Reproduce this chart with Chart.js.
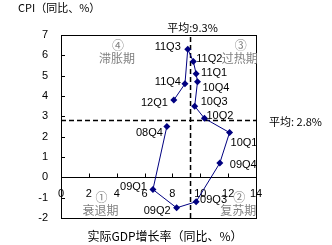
<!DOCTYPE html>
<html>
<head>
<meta charset="utf-8">
<script src="https://cdn.jsdelivr.net/npm/chart.js@4.4.1/dist/chart.umd.min.js"></script>
<style>
  html, body { margin:0; padding:0; background:#fff; }
  #wrap { width:332px; height:245px; }
</style>
</head>
<body>
<div id="wrap"><canvas id="c" width="332" height="245"></canvas></div>
<script>
// 数据：实际GDP增长率 与 CPI（同比、%）
const quarters = ['08Q4','09Q1','09Q2','09Q3','09Q4','10Q1','10Q2','10Q3','10Q4','11Q1','11Q2','11Q3','11Q4','12Q1'];
const gdp = [7.6, 6.6, 8.3, 9.7, 11.4, 12.1, 10.3, 9.6, 9.8, 9.7, 9.5, 9.1, 8.9, 8.1];
const cpi = [2.5, -0.6, -1.5, -1.2, 0.7, 2.2, 2.9, 3.5, 4.7, 5.1, 5.7, 6.3, 4.6, 3.8];
const gdpAvg = 9.3;
const cpiAvg = 2.8;
const xRange = [0, 14, 2];
const yRange = [-2, 7, 1];

const LATIN = '"Liberation Sans", Arial, sans-serif';
const CJK = '"Noto Sans CJK SC", "Liberation Sans", sans-serif';

// 标签位置（相对于点的像素偏移）
const labelPos = {
  '08Q4':[-4, 6,'right'], '09Q1':[-6,-3,'right'], '09Q2':[-6, 3,'right'],
  '09Q3':[ 4,-2,'left'],  '09Q4':[10, 2,'left'],  '10Q1':[ 1,10,'left'],
  '10Q2':[ 2,-2,'left'],  '10Q3':[ 6,-4,'left'],  '10Q4':[ 5, 6,'left'],
  '11Q1':[ 5,-1,'left'],  '11Q2':[ 3,-2,'left'],  '11Q3':[-7,-2,'right'],
  '11Q4':[-4,-2,'right'], '12Q1':[-6, 3,'right']
};

const quadrants = [
  { num:'④', name:'滞胀期', x:4.1,  y:6.5 },
  { num:'③', name:'过热期', x:12.9, y:6.5 },
  { num:'①', name:'衰退期', x:2.9,  y:-1.0 },
  { num:'②', name:'复苏期', x:12.8, y:-1.0 }
];

const deco = {
  id:'deco',
  beforeDatasetsDraw(chart) {
    const {ctx, chartArea:a, scales:{x, y}} = chart;
    ctx.save();
    ctx.strokeStyle = '#000';
    ctx.lineWidth = 1;
    ctx.strokeRect(Math.round(a.left)+0.5, Math.round(a.top)+0.5, Math.round(a.right-a.left), Math.round(a.bottom-a.top));
    // 内侧刻度
    const y0 = Math.round(y.getPixelForValue(0)) + 0.5;
    ctx.beginPath();
    for (let v = xRange[0]; v <= xRange[1]; v += xRange[2]) {
      const px = Math.round(x.getPixelForValue(v)) + 0.5;
      ctx.moveTo(px, y0); ctx.lineTo(px, y0 - 4);
    }
    for (let v = yRange[0]; v <= yRange[1]; v += yRange[2]) {
      const py = Math.round(y.getPixelForValue(v)) + 0.5;
      ctx.moveTo(a.left, py); ctx.lineTo(a.left + 4, py);
    }
    ctx.stroke();

    // 象限文字
    ctx.fillStyle = '#808080';
    ctx.font = '12px ' + CJK;
    ctx.textAlign = 'center';
    ctx.textBaseline = 'middle';
    quadrants.forEach(q => {
      const px = x.getPixelForValue(q.x), py = y.getPixelForValue(q.y);
      ctx.fillText(q.num, px, py);
      ctx.fillText(q.name, px - 1, py + 13);
    });
    ctx.restore();
  },
  afterDraw(chart) {
    const {ctx, chartArea:a, scales:{x, y}} = chart;
    ctx.save();
    ctx.fillStyle = '#000';
    ctx.textBaseline = 'middle';

    // 点标签
    ctx.font = '11px ' + LATIN;
    const meta = chart.getDatasetMeta(0);
    meta.data.forEach((pt, i) => {
      const p = labelPos[quarters[i]];
      ctx.textAlign = p[2];
      ctx.fillText(quarters[i], pt.x + p[0], pt.y + p[1]);
    });

    // 平均线标签
    ctx.font = '11px ' + CJK;
    ctx.textAlign = 'center';
    ctx.fillText('平均:' + gdpAvg + '%', x.getPixelForValue(gdpAvg) + 2, a.top - 7);
    ctx.textAlign = 'left';
    ctx.fillText('平均: ' + cpiAvg + '%', a.right + 13, y.getPixelForValue(cpiAvg) + 1);

    // 轴标题
    ctx.fillText('CPI（同比、%）', 18, 8);
    ctx.font = '12px ' + CJK;
    ctx.textAlign = 'center';
    ctx.fillText('实际GDP增长率（同比、%）', 165, 236);
    ctx.restore();
  }
};

new Chart(document.getElementById('c'), {
  type: 'scatter',
  data: {
    datasets: [
      {
        data: gdp.map((g, i) => ({ x: g, y: cpi[i] })),
        showLine: true,
        borderColor: '#000080',
        backgroundColor: '#000080',
        borderWidth: 1,
        pointStyle: 'rectRot',
        pointRadius: 3.5,
        pointBorderWidth: 0,
        order: 0
      },
      {
        data: [{ x: xRange[0], y: cpiAvg }, { x: xRange[1], y: cpiAvg }],
        showLine: true,
        borderColor: '#000',
        borderWidth: 1.5,
        borderDash: [5, 3],
        pointRadius: 0,
        order: 1
      },
      {
        data: [{ x: gdpAvg, y: yRange[0] }, { x: gdpAvg, y: yRange[1] }],
        showLine: true,
        borderColor: '#000',
        borderWidth: 1.5,
        borderDash: [5, 3],
        pointRadius: 0,
        order: 1
      }
    ]
  },
  options: {
    responsive: false,
    animation: false,
    layout: { padding: { left: 0, top: 35, right: 76, bottom: 27 } },
    plugins: { legend: { display: false }, tooltip: { enabled: false } },
    scales: {
      x: {
        type: 'linear',
        position: { y: 0 },
        min: xRange[0], max: xRange[1],
        grid: { display: false, drawTicks: false },
        border: { display: true, color: '#000', width: 1 },
        ticks: { stepSize: xRange[2], autoSkip: false, maxRotation: 0, padding: 10, color: '#000', font: { size: 11, family: LATIN } }
      },
      y: {
        type: 'linear',
        position: 'left',
        min: yRange[0], max: yRange[1],
        afterFit: s => { s.width = 61; },
        grid: { display: false, drawTicks: false },
        border: { display: false },
        ticks: { stepSize: yRange[2], padding: 13, color: '#000', font: { size: 11, family: LATIN } }
      }
    }
  },
  plugins: [deco]
});
</script>
</body>
</html>
